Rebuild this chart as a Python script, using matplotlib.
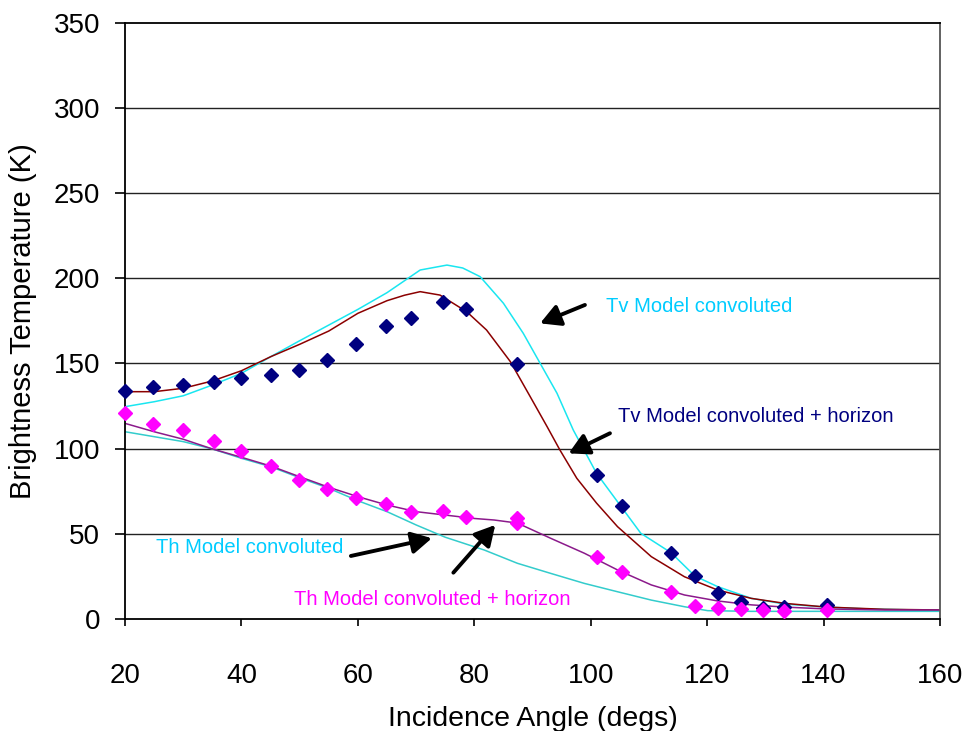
import numpy as np
import matplotlib
matplotlib.use("Agg")
from matplotlib import pyplot as plt

plt.rcParams['font.family'] = ['Liberation Sans', 'DejaVu Sans']

# model curves
tv_conv_x = [20, 25, 30, 35, 40, 45, 50, 55, 60, 65, 70.7, 75.3, 78, 81.0, 85.0, 88.4, 91.3,
             94.2, 97.0, 101.0, 108.6, 113.8, 117.9, 121.8, 127.6, 133.3, 140.5, 147.7, 156.3, 160]
tv_conv_y = [124.6, 127.5, 131, 137.3, 144.2, 153.9, 163.3, 172.5, 181.7, 191.5, 204.8, 207.7,
             206.0, 200.9, 185.3, 167.7, 150.1, 132.5, 110.9, 85.5, 50.3, 38.9, 25.2, 19.0, 12.1,
             8.8, 7.0, 5.9, 5.3, 5.2]

tv_hor_x = [20, 25, 30, 35, 40, 45, 50, 55, 60, 65, 68, 70.7, 74.1, 78.7, 82.1, 86.2, 89.6,
            92.5, 94.7, 97.6, 101, 104.6, 110.4, 116.1, 121.8, 127.6, 133.3, 140.5, 150.5, 160]
tv_hor_y = [133.4, 133.4, 135.4, 139.7, 145.7, 153.9, 161.2, 169.0, 179.4, 186.8, 190.0, 192.1,
            190.1, 180.3, 169.6, 151.0, 130.5, 112.9, 99.2, 82.6, 68.0, 54.2, 36.6, 24.8, 17,
            12.1, 9.2, 7, 5.7, 5.3]

th_conv_x = [20, 25, 30, 35, 40, 45, 50, 55, 60, 65, 70, 75, 81.7, 87.4, 93.1, 98.9, 104.6,
             110.4, 116.1, 120.1, 127.6, 140, 160]
th_conv_y = [109.9, 107.0, 104.1, 99.8, 94.3, 89.4, 82.9, 76.7, 69.4, 63.0, 55.2, 48, 40.5, 32.7,
             26.8, 20.9, 16.0, 11.1, 7.2, 4.9, 4.5, 4.5, 4.5]

th_hor_x = [20, 25, 30, 35, 40, 45, 50, 55, 60, 65, 70, 76, 80, 83.4, 87.4, 93.1, 98.9, 104.6,
            110.4, 116.1, 121.8, 127.6, 133.3, 140.5, 150.5, 160]
th_hor_y = [114.8, 109.9, 105.5, 99.8, 94.9, 89.8, 83.5, 77.3, 71.8, 66.9, 63.0, 60.6, 59.0, 58.1,
            56.3, 47.4, 38.6, 28.8, 20.0, 14.1, 10.6, 8.3, 7.0, 5.9, 5.3, 5.3]

# measured points
tv_meas_x = [20, 24.8, 29.9, 35.2, 40, 45, 49.9, 54.7, 59.7, 64.8, 69.2, 74.7, 78.6, 87.3,
             101.1, 105.3, 113.8, 117.9, 121.9, 125.8, 129.6, 133.2, 140.5]
tv_meas_y = [134.0, 136.3, 137.1, 139.3, 141.6, 143.0, 146.0, 152.0, 161.6, 172.1, 176.6, 185.9,
             181.9, 149.6, 84.5, 66.5, 38.9, 25.2, 15.1, 10.2, 6.6, 7.2, 8.0]

th_meas_x = [20, 24.8, 29.9, 35.2, 40, 45, 49.9, 54.7, 59.7, 64.8, 69.2, 74.7, 78.6, 87.3, 87.3,
             101.1, 105.3, 113.8, 117.9, 121.9, 125.8, 129.6, 133.2, 140.5]
th_meas_y = [120.7, 114.4, 110.7, 104.6, 98.8, 89.8, 81.6, 76.3, 71.0, 67.3, 62.8, 63.6, 60.0,
             59.5, 56.3, 36.6, 27.4, 15.7, 7.8, 6.5, 5.7, 5.3, 4.7, 5.3]

fig = plt.figure(figsize=(9.7, 7.31), dpi=100)
ax = fig.add_axes([0.1289, 0.1532, 0.8402, 0.8159])

for y in range(50, 350, 50):
    ax.axhline(y, color='#222222', lw=1.0, zorder=1)

ax.plot(tv_conv_x, tv_conv_y, color='#19E6F0', lw=1.1, zorder=2)
ax.plot(tv_hor_x, tv_hor_y, color='#8B0000', lw=1.1, zorder=2)
ax.plot(th_conv_x, th_conv_y, color='#33CCCC', lw=1.1, zorder=2)
ax.plot(th_hor_x, th_hor_y, color='#8B1A8B', lw=1.1, zorder=2)

ax.plot(tv_meas_x, tv_meas_y, 'D', color='#000080', ms=7, zorder=3, clip_on=False)
ax.plot(th_meas_x, th_meas_y, 'D', color='#FF00FF', ms=7, zorder=3, clip_on=False)

# annotations
arw = dict(arrowstyle='-|>,head_length=0.55,head_width=0.3', color='black', lw=2.8,
           mutation_scale=22, shrinkA=0, shrinkB=0)
ax.annotate('', xy=(91.3, 173.5), xytext=(99.0, 184.3), arrowprops=arw)
ax.annotate('', xy=(96.2, 97.2), xytext=(103.3, 109.0), arrowprops=arw)
ax.annotate('', xy=(72.7, 47.4), xytext=(58.8, 37.0), arrowprops=arw)
ax.annotate('', xy=(83.6, 55.2), xytext=(76.4, 27.2), arrowprops=arw)

ax.text(102.6, 183.3, 'Tv Model convoluted', color='#00CCFF', fontsize=14.5, va='center')
ax.text(104.6, 118.7, 'Tv Model convoluted + horizon', color='#000080', fontsize=14.5, va='center')
ax.text(25.3, 42.1, 'Th Model convoluted', color='#00CCFF', fontsize=14.5, va='center')
ax.text(49.0, 11.2, 'Th Model convoluted + horizon', color='#FF00FF', fontsize=14.5, va='center')

ax.set_xlim(20, 160)
ax.set_ylim(0, 350)
ax.set_xticks(range(20, 161, 20))
ax.set_yticks(range(0, 351, 50))
ax.tick_params(axis='y', length=7, width=1.2, pad=11, labelsize=20)
ax.tick_params(axis='x', length=5, width=1.2, pad=27, labelsize=20)

for s in ['left', 'bottom', 'top']:
    ax.spines[s].set_color('black')
    ax.spines[s].set_linewidth(1.3)
ax.spines['right'].set_color('#555555')
ax.spines['right'].set_linewidth(1.3)

ax.set_xlabel('Incidence Angle (degs)', fontsize=20.5, labelpad=12)
ax.set_ylabel('Brightness Temperature (K)', fontsize=21, labelpad=12)

plt.savefig('out.png', dpi=100)
